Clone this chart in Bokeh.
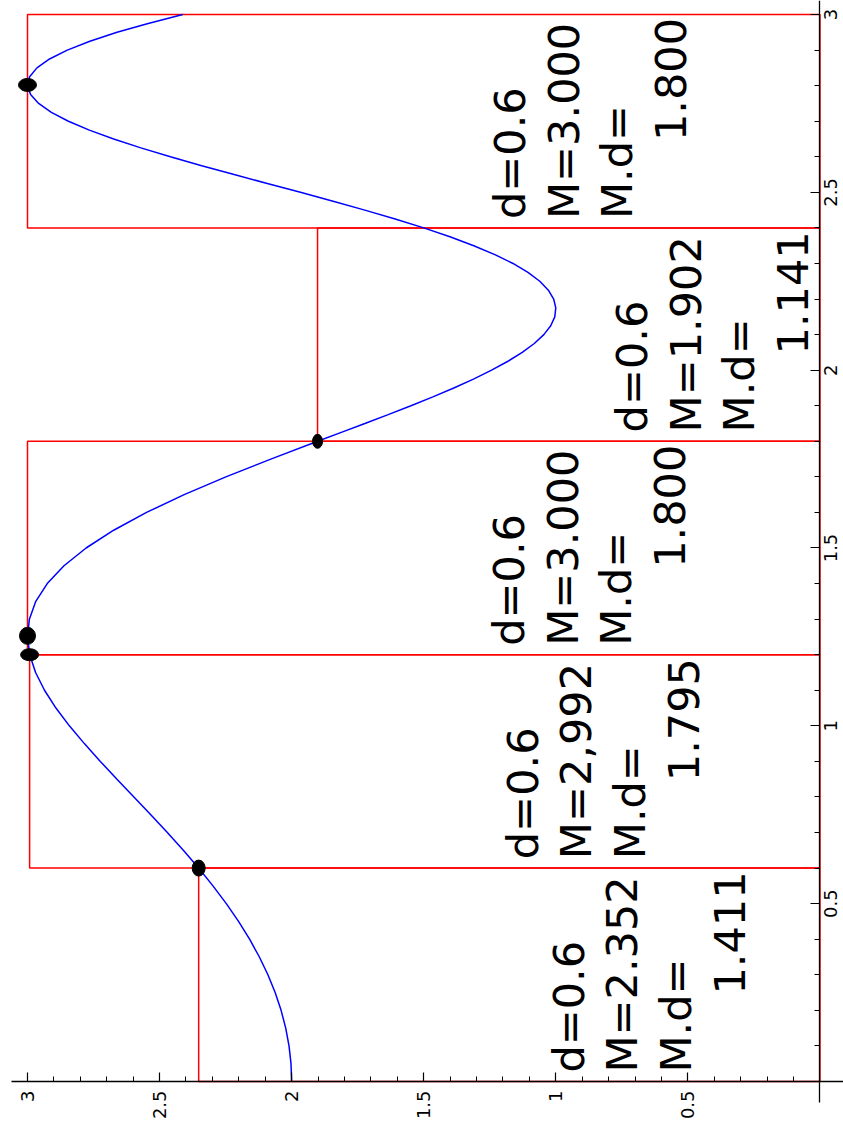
import math
from bokeh.plotting import figure
from bokeh.models import Range1d, FixedTicker, CustomJSTickFormatter, LinearAxis
from bokeh.core.properties import value
from bokeh.embed import file_html
from bokeh.resources import INLINE

# ---------------- data ----------------
curve_x = [0.00, 0.05, 0.10, 0.15, 0.20, 0.25, 0.30, 0.35, 0.40, 0.45,
           0.50, 0.55, 0.60, 0.65, 0.70, 0.75, 0.80, 0.85, 0.90, 0.95,
           1.00, 1.05, 1.10, 1.15, 1.20, 1.25, 1.30, 1.35, 1.40, 1.45,
           1.50, 1.55, 1.60, 1.65, 1.70, 1.75,
           1.800, 1.825, 1.850, 1.875, 1.900, 1.925, 1.950, 1.975,
           2.000, 2.025, 2.050, 2.075, 2.100, 2.125, 2.150, 2.175,
           2.200, 2.225, 2.250, 2.275, 2.300, 2.325, 2.350, 2.375,
           2.400, 2.425, 2.450, 2.475, 2.500, 2.525, 2.550, 2.575,
           2.600, 2.625, 2.650, 2.675, 2.700, 2.725, 2.750, 2.775,
           2.800, 2.825, 2.850, 2.875, 2.900, 2.925, 2.950, 2.975, 3.000]
curve_f = [2.000, 2.0025, 2.010, 2.0225, 2.040, 2.0625, 2.0899, 2.1222, 2.1593, 2.2011,
           2.2474, 2.2979, 2.3523, 2.4101, 2.4706, 2.5333, 2.5972, 2.6613, 2.7243, 2.7847,
           2.8415, 2.8923, 2.9356, 2.9694, 2.9915, 3.0000, 2.9929, 2.9686, 2.9252, 2.8619,
           2.7781, 2.6737, 2.5494, 2.4069, 2.2490, 2.0790,
           1.9018, 1.8121, 1.7228, 1.6346, 1.5485, 1.4654, 1.3862, 1.3118,
           1.2432, 1.1813, 1.1272, 1.0815, 1.0454, 1.0193, 1.0040, 1.0002,
           1.0081, 1.0282, 1.0607, 1.1054, 1.1622, 1.2308, 1.3106, 1.4008,
           1.5001, 1.6082, 1.7230, 1.8431, 1.9668, 2.0923, 2.2176, 2.3405,
           2.4590, 2.5708, 2.6738, 2.7659, 2.8451, 2.9097, 2.9578, 2.9883,
           2.9999, 2.9920, 2.9642, 2.9165, 2.8494, 2.7638, 2.6611, 2.5431, 2.4121]

part_left = [0.0, 0.6, 1.2, 1.8, 2.4]
part_right = [0.6, 1.2, 1.8, 2.4, 3.0]
part_base = [0.0, 0.0, 0.0, 0.0, 0.0]
part_max = [2.352, 2.992, 3.000, 1.902, 3.000]

step_text = ["d=0.6", "d=0.6", "d=0.6", "d=0.6", "d=0.6"]
max_text = ["M=2.352", "M=2,992", "M=3.000", "M=1.902", "M=3.000"]
prod_head = ["M.d=", "M.d=", "M.d=", "M.d=", "M.d="]
prod_text = ["1.411", "1.795", "1.800", "1.141", "1.800"]

argmax_x = [0.6, 1.2, 1.253, 1.8, 2.802]
argmax_f = [2.352, 2.992, 3.000, 1.902, 3.000]

major_ticks = [0.5, 1.0, 1.5, 2.0, 2.5, 3.0]
major_tick_text = ["0.5", "1", "1.5", "2", "2.5", "3"]
minor_ticks = [0.1, 0.2, 0.3, 0.4, 0.6, 0.7, 0.8, 0.9, 1.1, 1.2, 1.3, 1.4,
               1.6, 1.7, 1.8, 1.9, 2.1, 2.2, 2.3, 2.4, 2.6, 2.7, 2.8, 2.9]

# ---------------- layout (screen-derived) ----------------
W, H = 843, 1137
H_PX_PER_UNIT = 264.17      # horizontal screen axis carries f (reversed)
V_PX_PER_UNIT = 355.67      # vertical screen axis carries x
label_first_line = [0.952, 1.126, 1.176, 0.710, 1.172]   # f-position of first text line
label_start_pad = 0.025
line_gap = 53.5 / H_PX_PER_UNIT
value_indent = 78 / V_PX_PER_UNIT
dot_w = [13, 18, 16, 10, 18]
dot_h = [16, 12, 17, 14, 13]
x_tick_label_pos = -0.015

p = figure(width=W, height=H,
           x_range=Range1d(3.1022, -0.0890), y_range=Range1d(-0.1575, 3.0394),
           output_backend="svg", toolbar_location=None,
           x_axis_location=None, y_axis_location=None, min_border=0)
p.min_border_left = 0
p.min_border_right = 0
p.min_border_top = 0
p.min_border_bottom = 0
for g in p.grid:
    g.visible = False
p.outline_line_color = None
p.background_fill_color = "white"
p.border_fill_color = "white"

ax_f = LinearAxis(fixed_location=0, bounds=(-0.0890, 3.0606),
                  ticker=FixedTicker(ticks=major_ticks, minor_ticks=minor_ticks),
                  formatter=CustomJSTickFormatter(code="return tick.toString();"))
ax_x = LinearAxis(fixed_location=0, bounds=(-0.059, 3.0394),
                  ticker=FixedTicker(ticks=major_ticks, minor_ticks=minor_ticks),
                  formatter=CustomJSTickFormatter(code="return '';"))
for ax in (ax_f, ax_x):
    ax.major_tick_in = 9
    ax.major_tick_out = 0
    ax.minor_tick_in = 5
    ax.minor_tick_out = 0
    ax.axis_line_color = "black"
    ax.axis_line_width = 1.3
    ax.major_tick_line_width = 1.2
    ax.minor_tick_line_width = 1.0
    ax.major_label_orientation = math.pi / 2
    ax.major_label_standoff = 9
    ax.major_label_text_font = "DejaVu Sans"
    ax.major_label_text_font_size = "18px"
    ax.major_label_text_color = "black"
p.add_layout(ax_f, "below")
p.add_layout(ax_x, "right")

# tick labels of the x axis (drawn on the right side, reading upward)
p.text(x=[x_tick_label_pos] * len(major_ticks), y=major_ticks, text=major_tick_text,
       angle=math.pi / 2, text_font=value("DejaVu Sans"), text_font_size="18px",
       text_align="center", text_baseline="top", text_color="black")

# rectangles of the upper sum
p.quad(left=part_base, right=part_max, bottom=part_left, top=part_right,
       fill_color=None, line_color="#ff0000", line_width=1.5)

# the function
p.line(x=curve_f, y=curve_x, line_color="#0000ff", line_width=1.5)

# points where the max is reached
p.ellipse(x=argmax_f, y=argmax_x, width=dot_w, height=dot_h,
          width_units="screen", height_units="screen",
          fill_color="black", line_color="black")

# annotations
n = len(part_left)
start = [part_left[i] + label_start_pad for i in range(n)]
common = dict(angle=math.pi / 2, text_font=value("DejaVu Sans"), text_font_size="43px",
              text_align="left", text_baseline="alphabetic", text_color="black")
p.text(x=[label_first_line[i] for i in range(n)], y=start, text=step_text, **common)
p.text(x=[label_first_line[i] - line_gap for i in range(n)], y=start, text=max_text, **common)
p.text(x=[label_first_line[i] - 2 * line_gap for i in range(n)], y=start, text=prod_head, **common)
p.text(x=[label_first_line[i] - 3 * line_gap for i in range(n)],
       y=[s + value_indent for s in start], text=prod_text, **common)

open("out.html", "w").write(file_html(p, INLINE))
